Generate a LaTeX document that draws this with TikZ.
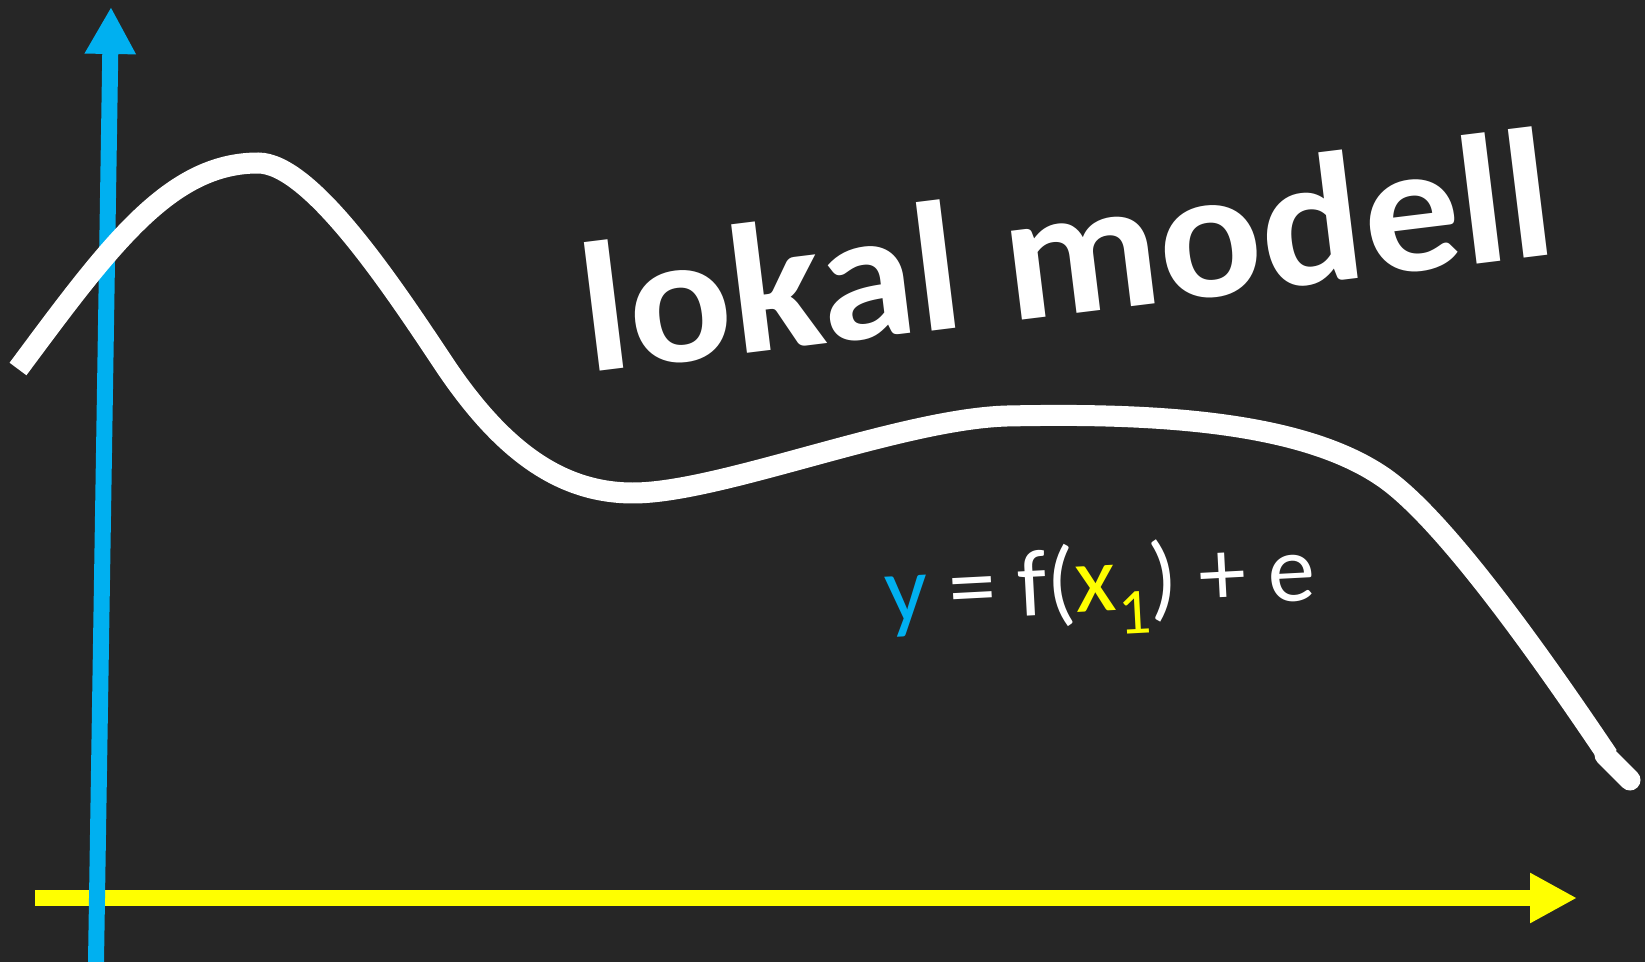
\documentclass[tikz,border=0pt]{standalone}
\usepackage{fontspec}
\usepackage{tikz}
\usetikzlibrary{arrows.meta}
\newfontfamily\calibri{Carlito}
\definecolor{bgdark}{HTML}{262626}
\definecolor{yblue}{HTML}{00B0F0}
\definecolor{xyellow}{HTML}{FFFF00}

\begin{document}
\begin{tikzpicture}[
    x=0.02cm, y=-0.02cm,
    axis/.style={line width=0.32cm},
    curve/.style={draw=white, line width=0.42cm},
    title/.style={font=\calibri\fontsize{105}{120}\selectfont\bfseries, text=white, inner sep=0pt},
    formula/.style={font=\calibri\fontsize{54}{60}\selectfont, text=white, inner sep=0pt},
]

% === BACKGROUND ===
\fill[bgdark] (0,0) rectangle (1645,962);
\useasboundingbox (0,0) rectangle (1645,962);

% === AXES ===
\coordinate (xaxis-start) at (35,898);
\coordinate (xaxis-tip) at (1577,898);
\coordinate (yaxis-start) at (96,962);
\coordinate (yaxis-tip) at (111,7);

\draw[axis, xyellow, -{Triangle[length=0.94cm, width=0.94cm]}] (xaxis-start) -- (xaxis-tip);
\draw[axis, yblue, -{Triangle[length=0.94cm, width=0.96cm]}] (yaxis-start) -- (yaxis-tip);

% === CURVE ===
\draw[curve] (18,369) .. controls (110,245) and (170,163) .. (258,163)
    .. controls (310,163) and (390,283) .. (440,358)
    .. controls (500,450) and (560,493) .. (633,493)
    .. controls (720,493) and (900,419) .. (1007,416)
    .. controls (1150,413) and (1300,420) .. (1383,477)
    .. controls (1440,516) and (1530,640) .. (1608,756);
\draw[curve, line cap=round] (1605,755) -- (1630,780);

% === LABELS ===
\node[title, rotate=7, anchor=base west] (lokal) at (588,373)
    {\scalebox{1.04}[1]{lokal modell}};

\node[formula, rotate=3, anchor=base west] (model) at (886,623)
    {\textcolor{yblue}{y} = f(\textcolor{xyellow}{x\raisebox{-0.25em}{\fontsize{37}{40}\selectfont 1}}) + e};

\end{tikzpicture}
\end{document}
